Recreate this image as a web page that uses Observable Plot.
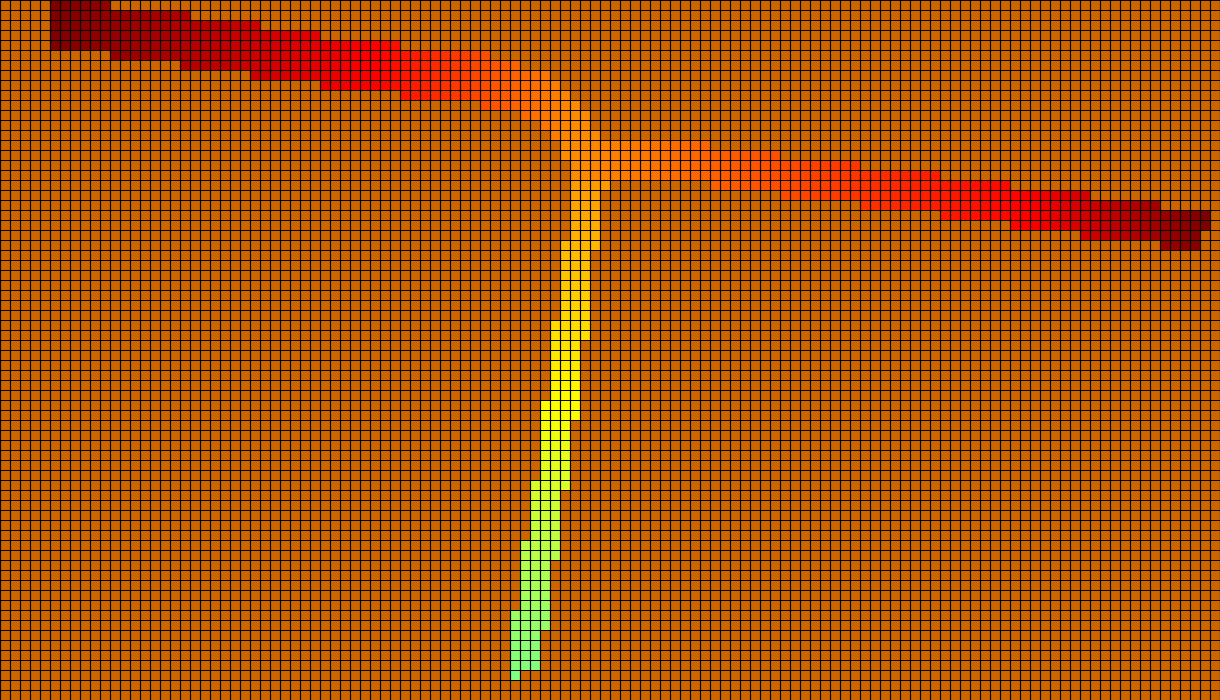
<!DOCTYPE html>
<html>
<head>
<meta charset="utf-8">
<script src="https://cdn.jsdelivr.net/npm/d3@7"></script>
<script src="https://cdn.jsdelivr.net/npm/@observablehq/plot@0.6"></script>
<style>
  html, body { margin: 0; padding: 0; background: #cd6600; overflow: hidden; }
  #chart svg { display: block; }
</style>
</head>
<body>
<div id="chart"></div>
<script>
// Grid size (cells)
const gridCols = 122;
const gridRows = 70;

// Colored runs: [row, firstCol, lastCol]
const leftRuns = [
  [0, 5, 10], [1, 5, 18], [2, 5, 25], [3, 5, 31], [4, 5, 39],
  [5, 11, 48], [6, 18, 51], [7, 25, 54], [8, 32, 55], [9, 40, 56],
  [10, 48, 57], [11, 52, 58], [12, 54, 58], [13, 55, 59]
];
const rightRuns = [
  [14, 56, 70], [15, 56, 77], [16, 57, 85], [17, 57, 93], [18, 71, 100],
  [19, 78, 108], [20, 86, 115], [21, 94, 120], [22, 101, 120], [23, 108, 119],
  [24, 116, 119]
];
const downRuns = [
  [18, 57, 60], [19, 57, 59], [20, 57, 59], [21, 57, 59], [22, 57, 59], [23, 57, 59],
  [24, 56, 59], [25, 56, 58], [26, 56, 58], [27, 56, 58], [28, 56, 58], [29, 56, 58],
  [30, 56, 58], [31, 56, 58], [32, 55, 58], [33, 55, 58], [34, 55, 57], [35, 55, 57],
  [36, 55, 57], [37, 55, 57], [38, 55, 57], [39, 55, 57], [40, 54, 57], [41, 54, 57],
  [42, 54, 56], [43, 54, 56], [44, 54, 56], [45, 54, 56], [46, 54, 56], [47, 54, 56],
  [48, 53, 56], [49, 53, 55], [50, 53, 55], [51, 53, 55], [52, 53, 55], [53, 53, 55],
  [54, 52, 55], [55, 52, 55], [56, 52, 54], [57, 52, 54], [58, 52, 54], [59, 52, 54],
  [60, 52, 54], [61, 51, 54], [62, 51, 54], [63, 51, 53], [64, 51, 53], [65, 51, 53],
  [66, 51, 53], [67, 51, 51]
];

// Heat anchors along each branch (position -> heat)
const leftAnchorPos = [5, 37, 57];    const leftAnchorHeat = [0, 0.6, 1];
const rightAnchorPos = [57, 102, 120]; const rightAnchorHeat = [1, 0.6, 0];
const downAnchorPos = [14, 20, 40, 67]; const downAnchorHeat = [1, 1.1, 1.5, 2];

// Colour scale stops
const heatStops = [0, 0.6, 1, 1.1, 1.5, 2];
const heatColors = ["#7f0000", "#ff0000", "#ff8c00", "#ffa500", "#ffff00", "#80ff80"];

const leftHeat = d3.scaleLinear(leftAnchorPos, leftAnchorHeat).clamp(true);
const rightHeat = d3.scaleLinear(rightAnchorPos, rightAnchorHeat).clamp(true);
const downHeat = d3.scaleLinear(downAnchorPos, downAnchorHeat).clamp(true);

const cells = [];
function expand(runs, heatFn, byRow) {
  for (const [row, c0, c1] of runs) {
    for (let col = c0; col <= c1; col++) {
      cells.push({row, col, heat: heatFn(byRow ? row : col)});
    }
  }
}
expand(leftRuns, leftHeat, false);
expand(rightRuns, rightHeat, false);
expand(downRuns, downHeat, true);

const chart = Plot.plot({
  width: 1220,
  height: 700,
  margin: 0,
  style: {background: "#cd6600"},
  x: {domain: [0, gridCols], axis: null},
  y: {domain: [0, gridRows], range: [0, 700], axis: null},
  color: {type: "linear", domain: heatStops, range: heatColors},
  marks: [
    Plot.rect(cells, {
      x1: "col",
      x2: d => d.col + 1,
      y1: "row",
      y2: d => d.row + 1,
      fill: "heat"
    }),
    Plot.ruleX(d3.range(0, gridCols + 1), {stroke: "#000", strokeWidth: 1.2}),
    Plot.ruleY(d3.range(0, gridRows + 1), {stroke: "#000", strokeWidth: 1.2})
  ]
});
document.getElementById("chart").appendChild(chart);
</script>
</body>
</html>
